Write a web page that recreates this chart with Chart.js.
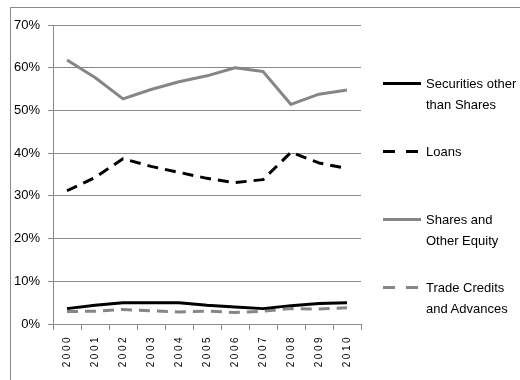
<!DOCTYPE html>
<html>
<head>
<meta charset="utf-8">
<script src="https://cdn.jsdelivr.net/npm/chart.js@4.4.0/dist/chart.umd.min.js"></script>
<style>
    html, body { margin: 0; padding: 0; background: #fff; }
    #wrap { position: relative; width: 520px; height: 380px; overflow: hidden; }
    #frame {
        position: absolute; left: 10px; top: 7px; width: 600px; height: 500px;
        border-top: 1px solid #8a8a8a; border-left: 1px solid #8a8a8a;
    }
    canvas { position: absolute; left: 0; top: 0; }
    .item { position: absolute; left: 383px; }
    .item svg { position: absolute; left: 0; top: 0; }
    .item .txt {
        position: absolute; left: 43px; top: 0; white-space: nowrap;
        font-family: "Liberation Sans", Arial, sans-serif;
        font-size: 13px; line-height: 21px; color: #000;
    }
</style>
</head>
<body>
<div id="wrap">
    <div id="frame"></div>
    <canvas id="chart" width="520" height="380"></canvas>
    <div id="legend"></div>
</div>
<script>
/* Данные (в процентах) */
const years = ["2000", "2001", "2002", "2003", "2004", "2005", "2006", "2007", "2008", "2009", "2010"];

const securities = [3.6, 4.4, 5.0, 5.0, 5.0, 4.4, 4.0, 3.6, 4.3, 4.8, 5.0];
const loans      = [31.2, 34.3, 38.7, 36.9, 35.5, 34.1, 33.1, 33.8, 40.2, 37.7, 36.4];
const shares     = [61.8, 57.7, 52.7, 54.9, 56.7, 58.1, 60.0, 59.1, 51.4, 53.8, 54.8];
const trade      = [2.9, 3.0, 3.4, 3.1, 2.8, 3.0, 2.7, 3.0, 3.6, 3.5, 3.8];

const seriesNames = ["Securities other than Shares", "Loans", "Shares and Other Equity", "Trade Credits and Advances"];
const legendLines = [["Securities other", "than Shares"], ["Loans"], ["Shares and", "Other Equity"], ["Trade Credits", "and Advances"]];
const yTicks = [0, 10, 20, 30, 40, 50, 60, 70];

const GRAY = "#868686";
const AXIS = "#8a8a8a";

const seriesStyle = [
    { color: "#000000", dash: [] },
    { color: "#000000", dash: [11, 7] },
    { color: GRAY, dash: [] },
    { color: GRAY, dash: [11, 7] }
];

/* Разрядка подписей по оси X (как в Excel) */
const spacedXLabels = {
    id: "spacedXLabels",
    afterDatasetsDraw(chart) { chart.ctx.letterSpacing = "2.5px"; },
    afterDraw(chart) { chart.ctx.letterSpacing = "0px"; }
};

const allData = [securities, loans, shares, trade];

new Chart(document.getElementById("chart"), {
    type: "line",
    data: {
        labels: years,
        datasets: allData.map((values, i) => ({
            label: seriesNames[i],
            data: values,
            borderColor: seriesStyle[i].color,
            borderDash: seriesStyle[i].dash,
            borderWidth: 3,
            borderJoinStyle: "round",
            pointRadius: 0,
            tension: 0,
            fill: false
        }))
    },
    options: {
        responsive: false,
        animation: false,
        layout: { padding: { left: 0, top: 25, right: 159, bottom: 0 } },
        plugins: {
            legend: { display: false },
            tooltip: { enabled: false }
        },
        scales: {
            x: {
                offset: true,
                grid: { display: true, drawOnChartArea: false, offset: true, tickLength: 6, color: AXIS },
                border: { color: AXIS },
                ticks: {
                    z: 1,
                    minRotation: 90, maxRotation: 90,
                    padding: 5,
                    autoSkip: false,
                    color: "#000",
                    font: { family: "Liberation Sans", size: 10 }
                },
                afterFit: s => { s.height = 56; }
            },
            y: {
                min: 0, max: 70,
                afterBuildTicks: s => { s.ticks = yTicks.map(v => ({ value: v })); },
                grid: { color: AXIS, tickLength: 5 },
                border: { color: AXIS },
                ticks: {
                    padding: 8,
                    color: "#000",
                    font: { family: "Liberation Sans", size: 13 },
                    callback: v => v + "%"
                },
                afterFit: s => { s.width = 53; }
            }
        }
    },
    plugins: [spacedXLabels]
});

/* Легенда справа */
const legend = document.getElementById("legend");
legendLines.forEach((lines, i) => {
    const cy = 83 + 68 * i;
    const item = document.createElement("div");
    item.className = "item";
    item.style.top = (cy - 10.5) + "px";
    const dash = seriesStyle[i].dash.length ? 'stroke-dasharray="12 11"' : "";
    item.innerHTML =
        `<svg width="40" height="21"><line x1="0" y1="10.5" x2="38" y2="10.5" stroke="${seriesStyle[i].color}" stroke-width="3" ${dash}/></svg>` +
        `<div class="txt">${lines.join("<br>")}</div>`;
    legend.appendChild(item);
});
</script>
</body>
</html>
